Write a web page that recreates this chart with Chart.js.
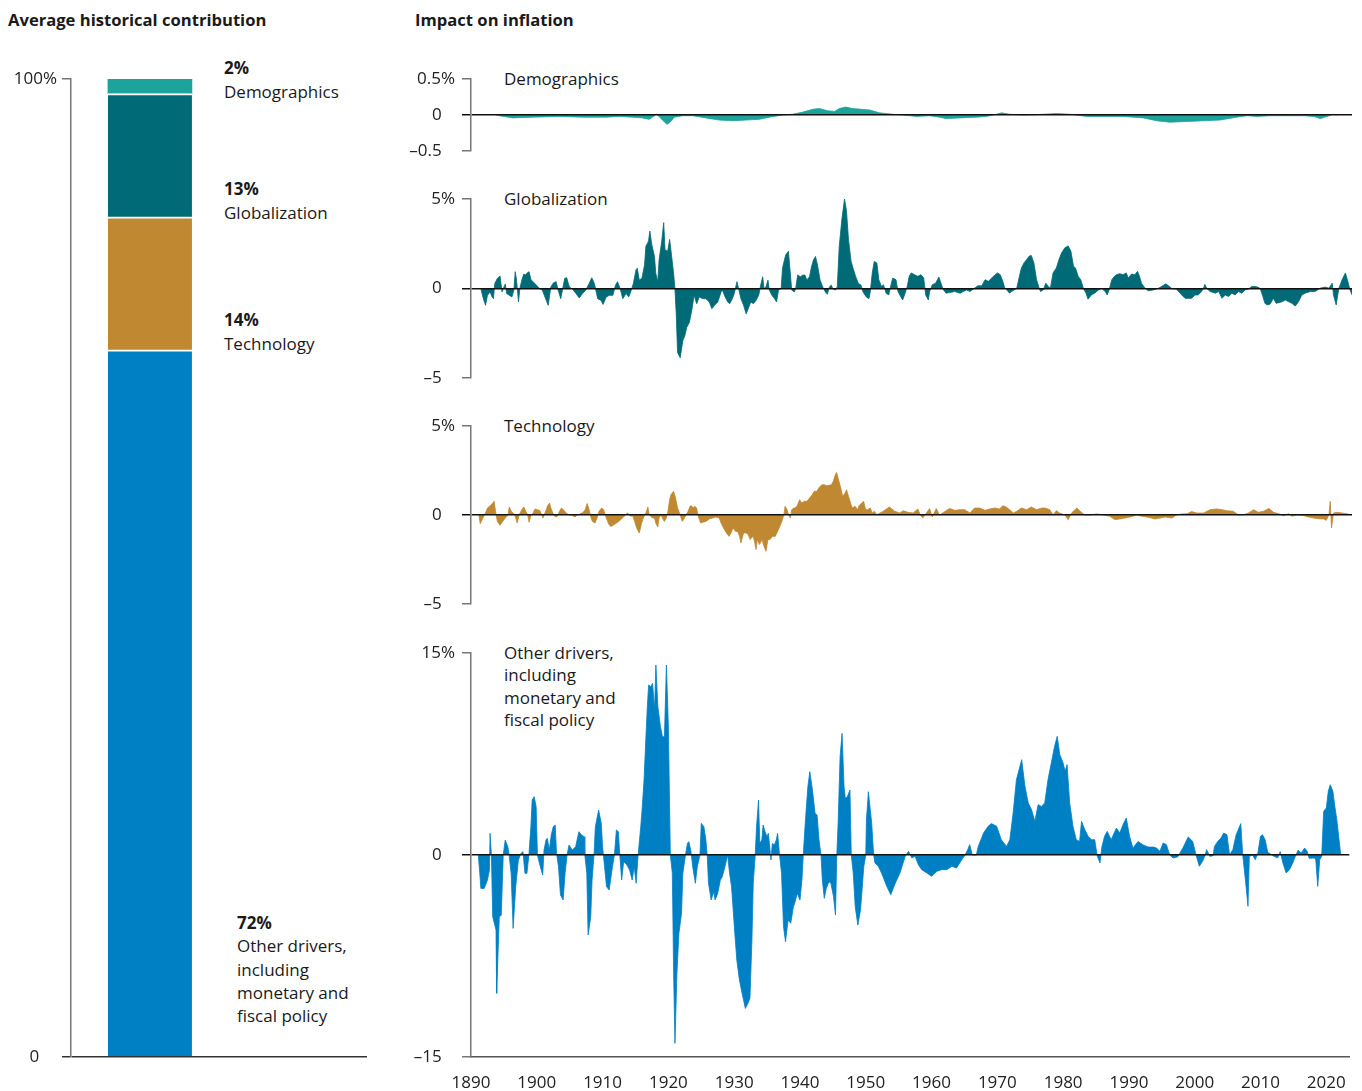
<!DOCTYPE html>
<html>
<head>
<meta charset="utf-8">
<script src="https://cdn.jsdelivr.net/npm/chart.js@4.4.1/dist/chart.umd.min.js"></script>
<style>
  html, body { margin: 0; padding: 0; background: #fff; }
  body { width: 1362px; height: 1091px; position: relative; overflow: hidden; font-family: 'Open Sans', sans-serif; color: #1a1a1a; }
  canvas { position: absolute; }
  .t { position: absolute; font-size: 17px; line-height: 23px; white-space: nowrap; color: #1a1a1a; }
  .b { font-weight: 700; }
  .h { font-size: 16.6px; }
</style>
</head>
<body>
<div class="t b h" style="left:8px;top:8px;">Average historical contribution</div>
<div class="t b h" style="left:415px;top:8px;">Impact on inflation</div>

<div class="t" style="left:224px;top:56px;line-height:24px;"><span class="b" id="pct3"></span><br>Demographics</div>
<div class="t" style="left:224px;top:177px;line-height:24px;"><span class="b" id="pct2"></span><br>Globalization</div>
<div class="t" style="left:224px;top:308px;line-height:24px;"><span class="b" id="pct1"></span><br>Technology</div>
<div class="t" style="left:237px;top:911px;line-height:23.25px;"><span class="b" id="pct0"></span><br>Other drivers,<br>including<br>monetary and<br>fiscal policy</div>

<div class="t" style="left:504px;top:67px;">Demographics</div>
<div class="t" style="left:504px;top:187px;">Globalization</div>
<div class="t" style="left:504px;top:414px;">Technology</div>
<div class="t" style="left:504px;top:642px;line-height:22.4px;">Other drivers,<br>including<br>monetary and<br>fiscal policy</div>

<canvas id="bar" width="400" height="1018" style="left:0;top:59px;width:400px;height:1018px;"></canvas>
<canvas id="demo" width="962" height="112" style="left:400px;top:59px;width:962px;height:112px;"></canvas>
<canvas id="glob" width="962" height="219" style="left:400px;top:179px;width:962px;height:219px;"></canvas>
<canvas id="tech" width="962" height="218" style="left:400px;top:406px;width:962px;height:218px;"></canvas>
<canvas id="other" width="962" height="458" style="left:400px;top:633px;width:962px;height:458px;"></canvas>

<script>
// ---------- Data ----------
const contribNames = ['Other drivers, including monetary and fiscal policy', 'Technology', 'Globalization', 'Demographics'];
const contribValues = [72.3, 13.6, 12.6, 1.5];
const contribColors = ['#0080C4', '#C08830', '#006B77', '#1BA39C'];
const contribTicks = [0, 100];
const contribTickLabels = ['0', '100%'];

const xTicks = [1890, 1900, 1910, 1920, 1930, 1940, 1950, 1960, 1970, 1980, 1990, 2000, 2010, 2020];

const demoTicks = [-0.5, 0, 0.5];
const demoTickLabels = ['\u20130.5', '0', '0.5%'];
const pctTicks5 = [-5, 0, 5];
const pctTickLabels5 = ['\u20135', '0', '5%'];
const pctTicks15 = [-15, 0, 15];
const pctTickLabels15 = ['\u201315', '0', '15%'];

// [year, percentage points]
const demographics = [[1893.8,0],[1894.3,-0.01],[1896.3,-0.04],[1899.3,-0.03],[1903.4,-0.02],[1906.9,-0.03],[1910.5,-0.03],[1912.5,-0.02],[1914.5,-0.03],[1916.0,-0.04],[1917.0,-0.06],[1917.8,-0.01],[1918.1,0.01],[1918.5,-0.02],[1919.0,-0.07],[1919.7,-0.13],[1920.3,-0.09],[1920.8,-0.03],[1922.1,-0.01],[1923.6,-0.01],[1925.6,-0.04],[1927.6,-0.07],[1929.7,-0.08],[1931.7,-0.07],[1933.7,-0.06],[1935.2,-0.03],[1937.2,0],[1938.7,0.01],[1940.3,0.04],[1941.8,0.08],[1942.8,0.09],[1944.0,0.06],[1945.1,0.05],[1945.8,0.09],[1946.8,0.11],[1947.8,0.09],[1949.1,0.08],[1950.4,0.07],[1951.9,0.03],[1953.9,0.01],[1955.5,0],[1957.5,-0.02],[1959.5,-0.01],[1961.0,-0.03],[1962.0,-0.05],[1964.1,-0.04],[1966.6,-0.03],[1968.1,-0.02],[1969.6,0.01],[1970.4,0.03],[1971.6,0.01],[1973.7,0],[1975.7,0.005],[1978.7,0.02],[1980.8,0.01],[1983.3,-0.02],[1985.8,-0.02],[1988.8,-0.02],[1991.9,-0.04],[1993.9,-0.08],[1995.9,-0.10],[1998.5,-0.09],[2001.0,-0.08],[2003.5,-0.07],[2006.0,-0.03],[2007.6,-0.01],[2009.1,-0.02],[2011.1,-0.01],[2013.6,-0.01],[2016.2,-0.01],[2017.7,-0.02],[2018.7,-0.05],[2019.7,-0.02],[2020.7,0.01],[2021.2,0]];

const globalization = [[1891.5,0],[1891.8,-0.47],[1892.2,-0.94],[1892.5,-0.38],[1892.9,-0.19],[1893.2,-0.47],[1893.4,-0.57],[1893.6,0.28],[1894.0,0.57],[1894.4,0.7],[1894.7,-0.19],[1894.9,0],[1895.2,0.25],[1895.4,-0.28],[1895.8,-0.38],[1896.2,-0.47],[1896.5,-0.09],[1896.7,0.94],[1896.9,0.47],[1897.2,-0.75],[1897.4,0],[1897.7,0.47],[1898.0,0.81],[1898.2,0.75],[1898.6,0.89],[1898.8,0.94],[1899.1,0.47],[1899.4,0.38],[1899.9,0.19],[1900.4,0],[1900.8,-0.09],[1901.1,-0.38],[1901.4,-0.66],[1901.7,-0.94],[1902.1,0.09],[1902.5,0.32],[1902.9,0.38],[1903.2,-0.09],[1903.6,-0.57],[1903.9,0],[1904.2,0.57],[1904.5,0.6],[1904.9,0.09],[1905.4,-0.04],[1905.9,-0.28],[1906.4,-0.53],[1906.9,-0.28],[1907.4,-0.09],[1907.9,0.28],[1908.3,0.6],[1908.7,0.28],[1909.2,-0.57],[1909.7,-0.66],[1910.0,-0.89],[1910.5,-0.47],[1911.0,-0.38],[1911.5,-0.38],[1911.9,0.19],[1912.2,0.38],[1912.6,0],[1913.0,-0.57],[1913.5,-0.28],[1913.9,-0.47],[1914.2,-0.19],[1914.6,0.28],[1915.0,1.04],[1915.2,1.13],[1915.5,0.47],[1915.9,0.57],[1916.3,1.32],[1916.5,2.36],[1916.9,2.64],[1917.1,3.21],[1917.4,2.45],[1917.8,1.79],[1918.0,0.85],[1918.3,0.38],[1918.5,1.6],[1918.9,2.64],[1919.2,3.68],[1919.4,2.17],[1919.8,2.08],[1920.1,2.74],[1920.5,1.51],[1920.7,0.85],[1920.9,0],[1921.1,-1.42],[1921.3,-3.58],[1921.7,-3.87],[1922.1,-2.92],[1922.4,-2.64],[1922.7,-2.17],[1923.1,-1.89],[1923.5,-1.13],[1923.8,-0.38],[1924.2,-0.85],[1924.6,-0.47],[1925.1,-0.57],[1925.6,-0.57],[1926.1,-0.75],[1926.5,-1.13],[1926.9,-0.94],[1927.4,-0.75],[1927.9,-0.19],[1928.1,-0.09],[1928.5,-0.47],[1928.9,-0.75],[1929.2,-0.85],[1929.6,-0.57],[1929.9,-0.28],[1930.3,0.38],[1930.6,-0.09],[1930.9,-0.57],[1931.3,-0.94],[1931.7,-1.42],[1932.1,-1.04],[1932.4,-0.75],[1932.8,-0.85],[1933.2,-0.66],[1933.6,-0.38],[1933.9,0.19],[1934.2,0.66],[1934.4,0],[1934.7,0.09],[1935.0,0.47],[1935.2,-0.09],[1935.6,-0.38],[1936.0,-0.57],[1936.3,-0.75],[1936.6,-0.09],[1937.0,0],[1937.2,1.13],[1937.5,1.6],[1937.7,1.89],[1938.1,2.08],[1938.3,1.23],[1938.6,-0.09],[1939.0,-0.19],[1939.2,0],[1939.5,0.75],[1939.9,0.66],[1940.3,0.75],[1940.6,0.75],[1940.9,0.47],[1941.3,0.66],[1941.6,1.23],[1941.9,1.6],[1942.2,1.79],[1942.5,1.32],[1942.9,0.47],[1943.3,0.09],[1943.7,-0.19],[1944.0,-0.32],[1944.3,0.09],[1944.6,0.19],[1944.8,0],[1945.2,-0.09],[1945.5,0.09],[1945.8,2.36],[1946.2,3.87],[1946.6,5.0],[1946.9,4.34],[1947.2,2.74],[1947.6,1.51],[1947.9,1.13],[1948.3,0.66],[1948.7,0.28],[1949.1,0.19],[1949.4,-0.19],[1949.9,-0.47],[1950.3,-0.57],[1950.5,-0.19],[1950.8,0.85],[1951.1,1.51],[1951.5,1.43],[1951.8,0.49],[1952.2,0.11],[1952.5,0.21],[1952.9,-0.26],[1953.3,-0.36],[1953.7,0.3],[1953.9,0.58],[1954.4,0.49],[1954.7,-0.17],[1955.1,-0.45],[1955.4,-0.64],[1955.7,-0.36],[1956.1,0.11],[1956.4,0.68],[1956.7,0.87],[1957.2,0.77],[1957.7,0.68],[1958.2,0.77],[1958.6,0.58],[1958.9,-0.36],[1959.3,-0.64],[1959.5,-0.17],[1959.9,0.21],[1960.4,0.3],[1960.9,0.64],[1961.3,0.21],[1961.6,-0.08],[1962.0,-0.26],[1962.5,-0.23],[1963.3,-0.17],[1964.1,-0.26],[1964.6,-0.17],[1965.1,-0.08],[1965.6,-0.17],[1966.3,0.02],[1966.8,0.15],[1967.4,0.15],[1967.9,0.49],[1968.4,0.4],[1968.9,0.58],[1969.4,0.77],[1969.8,0.87],[1970.2,0.77],[1970.5,0.49],[1970.9,0.02],[1971.2,-0.08],[1971.6,-0.26],[1971.9,-0.17],[1972.3,-0.08],[1972.7,0.02],[1973.1,0.68],[1973.4,1.15],[1973.8,1.43],[1974.2,1.62],[1974.6,1.81],[1974.9,1.85],[1975.3,1.43],[1975.7,0.49],[1976.1,0.02],[1976.3,-0.17],[1976.7,-0.08],[1977.1,0.3],[1977.5,0.11],[1977.8,0.02],[1978.2,0.87],[1978.7,1.15],[1979.1,1.62],[1979.5,2.0],[1980.0,2.28],[1980.5,2.38],[1980.9,2.09],[1981.3,1.25],[1981.6,1.15],[1982.0,0.68],[1982.4,0.49],[1982.8,0],[1983.2,-0.26],[1983.5,-0.6],[1984.0,-0.36],[1984.5,-0.26],[1985.1,-0.08],[1985.6,0],[1986.1,-0.17],[1986.4,-0.36],[1986.7,-0.08],[1987.1,0.49],[1987.5,0.68],[1987.8,0.77],[1988.3,0.83],[1988.8,0.77],[1989.3,0.87],[1989.6,0.58],[1990.1,0.81],[1990.6,0.77],[1991.0,0.96],[1991.3,0.68],[1991.6,0.3],[1992.0,0.08],[1992.6,-0.13],[1993.4,-0.08],[1994.2,0.02],[1994.8,0.15],[1995.3,0.26],[1995.7,0.15],[1996.2,0],[1996.9,-0.04],[1997.7,-0.36],[1998.2,-0.55],[1998.7,-0.55],[1999.2,-0.55],[1999.7,-0.36],[2000.2,-0.36],[2000.7,-0.17],[2001.0,0.02],[2001.2,0.23],[2001.5,0],[2002.0,-0.17],[2002.8,-0.26],[2003.3,-0.17],[2003.8,-0.55],[2004.3,-0.36],[2004.8,-0.45],[2005.3,-0.26],[2005.8,-0.36],[2006.3,-0.17],[2006.8,-0.26],[2007.3,-0.08],[2007.8,-0.04],[2008.3,0.11],[2008.8,0.11],[2009.2,0.08],[2009.6,0],[2010.0,-0.45],[2010.3,-0.83],[2010.7,-0.92],[2011.1,-0.87],[2011.6,-0.55],[2012.0,-0.83],[2012.4,-0.79],[2012.9,-0.74],[2013.4,-0.64],[2013.9,-0.74],[2014.4,-0.83],[2014.9,-0.98],[2015.4,-0.74],[2015.9,-0.36],[2016.4,-0.26],[2017.2,-0.17],[2017.9,-0.17],[2018.7,0.02],[2019.4,0.08],[2020.0,0.02],[2020.5,0.3],[2020.7,-0.36],[2021.1,-0.92],[2021.5,0],[2022.0,0.49],[2022.5,0.87],[2022.8,0.49],[2023.2,-0.08],[2023.5,-0.36]];

const technology = [[1891.2,0],[1891.4,-0.49],[1891.8,-0.17],[1892.2,0.11],[1892.5,0.39],[1892.9,0.52],[1893.3,0.67],[1893.5,0.77],[1893.8,0],[1894.0,-0.36],[1894.4,-0.58],[1894.8,-0.36],[1895.2,-0.17],[1895.6,0],[1895.8,0.45],[1896.1,0.21],[1896.4,0.11],[1896.7,-0.07],[1897.0,-0.45],[1897.3,0.02],[1897.7,0.3],[1898.0,0.45],[1898.3,0.21],[1898.6,0.02],[1898.8,-0.41],[1899.1,0],[1899.4,0.11],[1899.7,0.34],[1900.0,0.3],[1900.4,0.26],[1900.6,0.11],[1900.9,-0.17],[1901.1,0.02],[1901.4,0.3],[1901.6,0.52],[1901.9,0.67],[1902.1,0.39],[1902.4,0.11],[1902.6,-0.04],[1902.9,-0.11],[1903.1,-0.07],[1903.4,0.21],[1903.7,0.39],[1904.0,0.3],[1904.4,0.11],[1904.8,0.02],[1905.2,0],[1905.4,-0.04],[1905.8,-0.11],[1906.1,0.02],[1906.4,0.02],[1906.7,0.11],[1906.9,0.11],[1907.3,0.3],[1907.6,0.64],[1907.9,0.3],[1908.2,-0.17],[1908.4,-0.36],[1908.8,-0.45],[1909.1,-0.17],[1909.4,0.21],[1909.8,0.39],[1910.1,0.3],[1910.5,-0.17],[1910.9,-0.54],[1911.2,-0.64],[1911.7,-0.54],[1912.2,-0.41],[1912.7,-0.26],[1913.2,-0.07],[1913.7,0.11],[1914.0,0.02],[1914.2,-0.07],[1914.5,-0.04],[1914.8,-0.36],[1915.1,-0.73],[1915.5,-1.01],[1915.8,-0.54],[1916.1,-0.17],[1916.5,0.11],[1916.8,0.45],[1917.0,0.02],[1917.5,-0.17],[1917.8,-0.17],[1918.0,-0.45],[1918.3,-0.67],[1918.5,-0.17],[1918.8,0.02],[1919.0,-0.17],[1919.3,-0.36],[1919.6,-0.17],[1919.8,0.11],[1920.1,0.86],[1920.3,1.14],[1920.7,1.33],[1921.0,0.95],[1921.3,0.39],[1921.7,0.02],[1922.0,-0.36],[1922.2,-0.26],[1922.6,0.02],[1922.9,0.21],[1923.2,0.49],[1923.4,0.52],[1923.7,0.39],[1923.9,0.49],[1924.2,0.39],[1924.4,-0.04],[1924.8,-0.45],[1925.1,-0.41],[1925.6,-0.36],[1926.1,-0.22],[1926.6,-0.17],[1927.1,-0.11],[1927.6,-0.17],[1928.0,-0.54],[1928.4,-0.82],[1928.7,-1.01],[1929.1,-1.2],[1929.4,-1.01],[1929.7,-0.73],[1930.1,-0.92],[1930.4,-0.92],[1930.7,-1.2],[1930.9,-1.57],[1931.3,-1.01],[1931.7,-1.01],[1932.0,-1.1],[1932.3,-1.38],[1932.7,-1.2],[1932.9,-1.38],[1933.2,-1.94],[1933.4,-1.38],[1933.7,-1.66],[1934.1,-1.38],[1934.4,-1.76],[1934.7,-2.04],[1935.0,-1.38],[1935.3,-1.38],[1935.7,-1.2],[1936.1,-1.2],[1936.4,-0.97],[1936.7,-0.73],[1937.1,-0.36],[1937.4,0],[1937.6,0.49],[1937.9,0.3],[1938.1,0.02],[1938.4,-0.17],[1938.6,0.3],[1938.9,0.39],[1939.1,0.39],[1939.4,0.49],[1939.8,0.86],[1940.1,0.67],[1940.5,0.77],[1940.9,0.77],[1941.3,0.95],[1941.7,1.14],[1942.0,1.33],[1942.4,1.33],[1942.8,1.57],[1943.2,1.7],[1943.5,1.7],[1944.0,1.64],[1944.6,1.7],[1944.9,1.89],[1945.2,2.26],[1945.4,2.39],[1945.7,1.98],[1946.1,1.42],[1946.3,1.05],[1946.7,1.23],[1946.9,1.42],[1947.2,1.05],[1947.6,0.58],[1947.8,0.39],[1948.2,0.49],[1948.6,0.3],[1948.8,0.52],[1949.2,0.67],[1949.5,0.77],[1949.8,0.3],[1950.1,0.3],[1950.5,0.39],[1950.8,0.11],[1951.1,0.21],[1951.5,0.02],[1952.4,0.19],[1953.4,0.45],[1954.2,0.21],[1955.0,0.11],[1955.5,0.24],[1956.2,0.15],[1957.0,0.11],[1957.7,0.34],[1958.2,-0.07],[1958.5,-0.15],[1959.0,0.11],[1959.5,0.36],[1959.9,-0.11],[1960.5,0.36],[1961.0,0],[1961.8,0.19],[1962.5,0.37],[1963.3,0.26],[1964.1,0.3],[1964.8,0.3],[1965.6,0.11],[1966.3,0.39],[1967.1,0.39],[1967.9,0.26],[1968.6,0.34],[1969.4,0.39],[1970.1,0.34],[1970.6,0.52],[1971.1,0.45],[1971.6,0.3],[1972.2,0.11],[1972.7,0.21],[1973.4,0.39],[1974.2,0.3],[1974.9,0.45],[1975.7,0.3],[1976.5,0.39],[1977.0,0.39],[1977.7,0.3],[1978.2,0],[1978.7,0.24],[1979.2,0.11],[1980.0,0],[1980.5,-0.26],[1981.0,0.11],[1981.8,0.39],[1982.3,0.21],[1983.0,0],[1983.8,0],[1984.8,0.06],[1985.8,0],[1986.8,-0.07],[1987.6,-0.26],[1988.3,-0.22],[1989.1,-0.17],[1989.9,-0.11],[1990.9,0],[1991.6,-0.07],[1992.4,-0.11],[1993.7,-0.22],[1994.4,-0.17],[1995.2,-0.11],[1996.2,-0.17],[1996.9,0],[1997.7,0.06],[1998.5,0.07],[1999.2,0.19],[2000.0,0.11],[2001.0,0.11],[2002.0,0.3],[2003.0,0.34],[2003.8,0.3],[2004.5,0.24],[2005.5,0.21],[2006.3,0],[2007.1,0.02],[2007.8,0.11],[2008.6,0.3],[2009.3,0.15],[2010.1,0.21],[2010.9,0.37],[2011.6,0.15],[2012.4,0.07],[2013.1,-0.04],[2013.9,0.07],[2014.4,-0.07],[2015.2,0],[2016.2,-0.04],[2016.9,-0.11],[2017.7,-0.17],[2018.4,-0.21],[2019.2,-0.22],[2019.6,-0.3],[2020.0,0],[2020.2,0.77],[2020.4,-0.73],[2020.7,0.11],[2021.2,0.15],[2022.0,0.11],[2022.7,0.07],[2023.2,0.02]];

const otherDrivers = [[1891.1,0],[1891.3,-1.11],[1891.5,-2.48],[1892.0,-2.48],[1892.5,-1.86],[1892.8,-1.11],[1892.9,1.61],[1893.1,0],[1893.3,-4.58],[1893.8,-5.57],[1893.9,-10.27],[1894.3,-4.58],[1894.6,-4.48],[1894.9,0],[1895.2,1.11],[1895.6,0.62],[1895.8,0],[1896.1,-1.36],[1896.4,-5.45],[1896.8,-2.35],[1897.2,-0.37],[1897.6,0.12],[1897.9,0.25],[1898.2,-1.36],[1898.5,-1.36],[1898.8,0],[1899.1,2.1],[1899.3,4.08],[1899.6,4.33],[1899.9,3.59],[1900.1,0],[1900.4,-0.62],[1900.9,-1.49],[1901.1,0.37],[1901.4,1.11],[1901.6,1.24],[1901.9,0.37],[1902.2,1.49],[1902.5,2.1],[1902.8,2.23],[1903.0,0.12],[1903.3,-0.87],[1903.6,-2.97],[1904.0,-3.34],[1904.3,-1.36],[1904.6,0],[1904.9,0.74],[1905.4,0.37],[1905.9,0.62],[1906.4,1.73],[1906.8,1.49],[1907.2,1.36],[1907.3,0],[1907.6,-1.36],[1907.8,-5.94],[1908.2,-4.58],[1908.4,-1.86],[1908.7,0],[1908.9,2.1],[1909.4,3.34],[1909.8,2.35],[1910.0,0.62],[1910.3,-0.87],[1910.6,-2.35],[1911.0,-2.6],[1911.5,-0.87],[1911.8,0],[1912.1,1.86],[1912.4,1.73],[1912.6,0.12],[1912.9,-1.86],[1913.2,-0.5],[1913.7,-0.74],[1914.1,-1.11],[1914.5,-1.86],[1914.8,-0.87],[1915.1,-2.1],[1915.4,0],[1915.8,2.1],[1916.0,3.34],[1916.3,5.57],[1916.5,7.8],[1916.8,11.01],[1917.0,12.62],[1917.3,12.5],[1917.6,12.75],[1917.9,10.77],[1918.1,14.11],[1918.4,11.01],[1918.8,9.53],[1919.1,8.79],[1919.4,8.79],[1919.7,14.11],[1920.0,9.53],[1920.3,0],[1920.6,-1.36],[1920.8,-8.79],[1921.0,-13.99],[1921.3,-8.79],[1921.6,-5.82],[1922.0,-4.33],[1922.2,-1.36],[1922.6,0],[1922.9,0.87],[1923.1,0.99],[1923.4,0.37],[1923.7,-0.87],[1924.1,-2.1],[1924.4,-0.87],[1924.8,0],[1925.0,2.35],[1925.4,2.1],[1925.7,1.11],[1925.9,0],[1926.1,-2.1],[1926.5,-3.34],[1926.9,-2.72],[1927.1,-3.34],[1927.5,-2.85],[1927.9,-1.86],[1928.2,-1.61],[1928.6,-0.87],[1929.0,0],[1929.3,-1.36],[1929.6,-2.35],[1930.1,-5.82],[1930.4,-7.8],[1930.8,-9.28],[1931.2,-10.27],[1931.7,-11.39],[1932.1,-11.01],[1932.4,-10.64],[1932.7,-6.31],[1932.9,-2.1],[1933.2,0],[1933.4,2.1],[1933.7,4.08],[1933.9,0.87],[1934.2,1.11],[1934.4,2.23],[1934.7,1.73],[1935.0,1.36],[1935.2,1.61],[1935.5,0.12],[1935.6,-0.37],[1935.8,0.87],[1936.1,0.74],[1936.4,1.11],[1936.6,1.61],[1936.9,0],[1937.2,-1.36],[1937.5,-5.32],[1937.8,-6.44],[1938.2,-4.83],[1938.6,-5.07],[1939.0,-3.84],[1939.2,-3.59],[1939.6,-2.85],[1940.0,-3.34],[1940.3,-1.86],[1940.5,0],[1940.8,2.35],[1941.2,5.07],[1941.5,6.19],[1941.9,4.83],[1942.3,3.09],[1942.6,2.97],[1942.9,1.11],[1943.2,0],[1943.4,-1.86],[1943.7,-3.22],[1944.0,-2.48],[1944.4,-1.98],[1944.7,-2.1],[1945.1,-3.09],[1945.4,-4.46],[1945.6,0],[1945.8,2.35],[1946.1,7.3],[1946.4,9.03],[1946.7,5.07],[1946.9,4.21],[1947.2,4.33],[1947.6,4.83],[1947.8,0],[1948.1,-1.36],[1948.4,-3.84],[1948.8,-5.2],[1949.2,-4.08],[1949.4,-2.85],[1949.7,-0.87],[1950.0,0],[1950.1,2.6],[1950.4,4.7],[1950.9,2.38],[1951.2,0],[1951.4,-0.59],[1951.9,-0.84],[1952.4,-1.34],[1953.2,-2.33],[1953.8,-2.95],[1954.5,-2.08],[1955.2,-1.34],[1956.0,-0.1],[1956.5,0.27],[1957.0,-0.22],[1957.5,-0.1],[1958.0,-0.72],[1958.5,-1.09],[1959.3,-1.34],[1960.0,-1.58],[1960.8,-1.21],[1961.5,-1.09],[1962.3,-1.09],[1963.1,-0.84],[1963.8,-0.97],[1964.6,-0.35],[1965.1,0],[1965.5,0.4],[1965.8,0.77],[1966.2,0],[1966.8,0],[1967.1,0.64],[1967.9,1.63],[1968.6,2.13],[1969.1,2.33],[1969.9,2.13],[1970.6,1.14],[1971.4,0.64],[1971.9,1.14],[1972.4,3.12],[1972.9,5.59],[1973.7,7.08],[1974.2,5.1],[1974.7,3.86],[1975.2,3.37],[1975.7,2.5],[1976.2,3.74],[1976.7,3.61],[1977.2,3.86],[1977.7,5.59],[1978.2,6.83],[1978.7,8.07],[1979.1,8.81],[1979.5,7.45],[1980.0,6.83],[1980.3,6.21],[1980.6,6.71],[1981.0,3.86],[1981.5,2.13],[1982.0,1.14],[1982.5,1.01],[1982.8,2.5],[1983.3,1.88],[1983.8,1.39],[1984.3,1.14],[1984.8,1.14],[1985.2,-0.1],[1985.6,-0.59],[1985.9,0.64],[1986.3,1.39],[1986.7,1.76],[1987.3,1.14],[1988.1,2.0],[1988.6,1.63],[1989.1,2.25],[1989.6,2.75],[1990.1,1.39],[1990.6,0.52],[1991.4,1.01],[1992.1,0.77],[1992.9,0.59],[1993.7,0.59],[1994.2,0.52],[1994.7,0.27],[1995.2,0.89],[1995.7,0.77],[1996.2,0],[1996.7,-0.22],[1997.4,-0.15],[1998.2,0.52],[1999.0,1.34],[1999.7,1.01],[2000.2,0],[2000.7,-0.84],[2001.2,-0.47],[2001.6,0],[2001.8,0.4],[2002.3,-0.1],[2002.8,-0.05],[2003.0,0.64],[2003.5,1.01],[2004.0,1.26],[2004.4,1.63],[2004.9,1.51],[2005.3,0],[2005.8,0.4],[2006.3,1.51],[2007.0,2.33],[2007.3,0],[2007.7,-1.83],[2008.1,-3.81],[2008.3,-0.1],[2008.8,0],[2009.2,-0.35],[2009.6,0.15],[2010.0,1.39],[2010.3,1.51],[2010.7,1.14],[2011.1,0.2],[2011.9,-0.05],[2012.6,-0.22],[2013.0,0.25],[2013.4,-0.59],[2013.9,-1.34],[2014.4,-1.09],[2014.9,-0.59],[2015.3,-0.1],[2015.7,0.35],[2016.2,0.15],[2016.7,0.52],[2017.1,0.27],[2017.4,-0.25],[2018.2,-0.22],[2018.4,-0.35],[2018.7,-2.33],[2019.0,-0.35],[2019.3,-0.1],[2019.6,3.24],[2020.0,3.49],[2020.3,4.73],[2020.6,5.22],[2021.0,4.73],[2021.3,3.61],[2021.6,2.62],[2022.2,0]];

// ---------- Rendering ----------
const FONT = "'Open Sans', sans-serif";
const TEXT = '#222';
const AXIS = '#777';
Chart.defaults.font.family = FONT;
Chart.defaults.font.size = 17;
Chart.defaults.color = TEXT;

function hang(label, pad) { return label.endsWith('%') ? label : label + pad; }

contribValues.forEach((v, i) => {
  document.getElementById('pct' + i).textContent = Math.round(v) + '%';
});

new Chart(document.getElementById('bar'), {
  type: 'bar',
  data: {
    datasets: contribNames.map((name, i) => ({
      label: name,
      data: [{ x: 1, y: contribValues[i] }],
      backgroundColor: contribColors[i],
      borderColor: '#ffffff',
      borderWidth: i === contribNames.length - 1 ? 0 : { top: 2, right: 0, bottom: 0, left: 0 },
      borderSkipped: false,
      barThickness: 84
    }))
  },
  options: {
    responsive: false, animation: false, devicePixelRatio: 1,
    layout: { padding: { top: 20, right: 33, bottom: 20, left: 0 } },
    plugins: { legend: { display: false }, tooltip: { enabled: false } },
    scales: {
      x: { type: 'linear', min: 0, max: 3.75, offset: false, stacked: true, display: false, grid: { offset: false } },
      y: {
        stacked: true, min: 0, max: 100,
        afterBuildTicks: s => { s.ticks = contribTicks.map(v => ({ value: v })); },
        afterFit: s => { s.width = 71; },
        grid: {
          z: 1, drawTicks: true, tickLength: 9, lineWidth: 1.5,
          color: c => (c.tick && c.tick.value === 0) ? '#333' : 'rgba(0,0,0,0)',
          tickColor: c => (c.tick && c.tick.value === 0) ? '#333' : AXIS
        },
        border: { display: true, color: AXIS, width: 1.5, z: 1 },
        ticks: { padding: 5, autoSkip: false, color: TEXT, font: { family: FONT, size: 17 },
          callback: v => { const i = contribTicks.indexOf(v); return i < 0 ? '' : hang(contribTickLabels[i], '    '); } }
      }
    }
  }
});

function panel(id, series, color, yMin, yMax, yTicks, yLabels, showX) {
  return new Chart(document.getElementById(id), {
    type: 'line',
    data: {
      datasets: [{
        data: series,
        fill: 'origin',
        backgroundColor: color,
        borderColor: color,
        borderWidth: 0.8,
        pointRadius: 0,
        tension: 0
      }]
    },
    options: {
      responsive: false, animation: false, devicePixelRatio: 1,
      layout: { padding: { top: 20, right: 10, bottom: showX ? 0 : 20, left: 0 } },
      plugins: { legend: { display: false }, tooltip: { enabled: false } },
      scales: {
        x: {
          type: 'linear', min: 1890, max: 2023.5, display: showX,
          afterBuildTicks: s => { s.ticks = xTicks.map(v => ({ value: v })); },
          afterFit: s => { if (showX) s.height = 34; },
          grid: { display: false, drawTicks: false },
          border: { display: true, color: '#555', width: 1.5, z: 1 },
          ticks: { padding: 16, maxRotation: 0, autoSkip: false, color: TEXT, font: { family: FONT, size: 17 }, callback: v => String(v) }
        },
        y: {
          min: yMin, max: yMax,
          afterBuildTicks: s => { s.ticks = yTicks.map(v => ({ value: v })); },
          afterFit: s => { s.width = 71; },
          grid: {
            z: 1, drawTicks: true, tickLength: 9, lineWidth: 1.5,
            color: c => (c.tick && c.tick.value === 0) ? '#111' : 'rgba(0,0,0,0)',
            tickColor: c => (c.tick && c.tick.value === 0) ? '#111' : AXIS
          },
          border: { display: true, color: AXIS, width: 1.5, z: 1 },
          ticks: { padding: 7, autoSkip: false, color: TEXT, font: { family: FONT, size: 17 },
            callback: v => { const i = yTicks.indexOf(v); return i < 0 ? '' : hang(yLabels[i], '   '); } }
        }
      }
    }
  });
}

panel('demo', demographics, '#1BA39C', -0.5, 0.5, demoTicks, demoTickLabels, false);
panel('glob', globalization, '#006B77', -5, 5, pctTicks5, pctTickLabels5, false);
panel('tech', technology, '#C08830', -5, 5, pctTicks5, pctTickLabels5, false);
panel('other', otherDrivers, '#0080C4', -15, 15, pctTicks15, pctTickLabels15, true);
</script>
</body>
</html>
